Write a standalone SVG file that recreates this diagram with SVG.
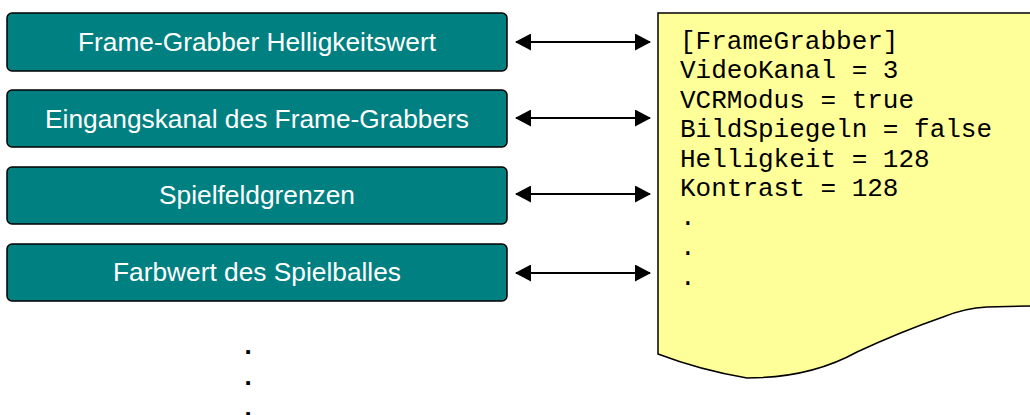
<svg xmlns="http://www.w3.org/2000/svg" width="1030" height="415" viewBox="0 0 1030 415">
<style>
.box{fill:#008080;stroke:#000;stroke-width:1.5}
.lbl{font-family:"Liberation Sans",Arial,sans-serif;font-size:26.3px;fill:#fff;text-anchor:middle}
.code{font-family:"Liberation Mono","Courier New",monospace;font-size:26px;fill:#000}
.conn{stroke:#000;stroke-width:2;fill:none}
.dot{font-family:"Liberation Sans",Arial,sans-serif;font-size:26px;font-weight:bold;fill:#000;text-anchor:middle}
</style>
<defs>
<marker id="ah" viewBox="0 0 16 17" refX="15" refY="8.5" markerWidth="16" markerHeight="17" markerUnits="userSpaceOnUse" orient="auto-start-reverse">
<path d="M0,0 L16,8.5 L0,17 Z" fill="#000"/>
</marker>
</defs>
<rect width="1030" height="415" fill="#fff"/>
<g id="doc">
<path d="M658,13 L1032,13 L1032,306 L987,307 Q965,308 943,317 Q900,332 857,352 Q810,378 747,378 Q700,370 658,354 Z" fill="#FFFF99" stroke="#000" stroke-width="1.5"/>
<text class="code" x="680" y="49">[FrameGrabber]</text>
<text class="code" x="680" y="78">VideoKanal = 3</text>
<text class="code" x="680" y="107.5">VCRModus = true</text>
<text class="code" x="680" y="137">BildSpiegeln = false</text>
<text class="code" x="680" y="166.5">Helligkeit = 128</text>
<text class="code" x="680" y="196">Kontrast = 128</text>
<text class="code" x="680" y="225">.</text>
<text class="code" x="680" y="255">.</text>
<text class="code" x="680" y="285">.</text>
</g>
<g id="n1"><rect class="box" x="7" y="13" width="500" height="58" rx="5"/><text class="lbl" x="257" y="51">Frame-Grabber Helligkeitswert</text></g>
<g id="n2"><rect class="box" x="7" y="90" width="500" height="57" rx="5"/><text class="lbl" x="257" y="128">Eingangskanal des Frame-Grabbers</text></g>
<g id="n3"><rect class="box" x="7" y="167" width="500" height="57" rx="5"/><text class="lbl" x="257" y="204">Spielfeldgrenzen</text></g>
<g id="n4"><rect class="box" x="7" y="244" width="500" height="57" rx="5"/><text class="lbl" x="257" y="281">Farbwert des Spielballes</text></g>
<g id="connectors">
<line class="conn" x1="516" y1="42" x2="650" y2="42" marker-start="url(#ah)" marker-end="url(#ah)"/>
<line class="conn" x1="516" y1="118" x2="650" y2="118" marker-start="url(#ah)" marker-end="url(#ah)"/>
<line class="conn" x1="516" y1="194" x2="650" y2="194" marker-start="url(#ah)" marker-end="url(#ah)"/>
<line class="conn" x1="516" y1="273" x2="650" y2="273" marker-start="url(#ah)" marker-end="url(#ah)"/>
</g>
<g id="ellipsis">
<text class="dot" x="248" y="354">.</text>
<text class="dot" x="248" y="385">.</text>
<text class="dot" x="248" y="416">.</text>
</g>
</svg>
